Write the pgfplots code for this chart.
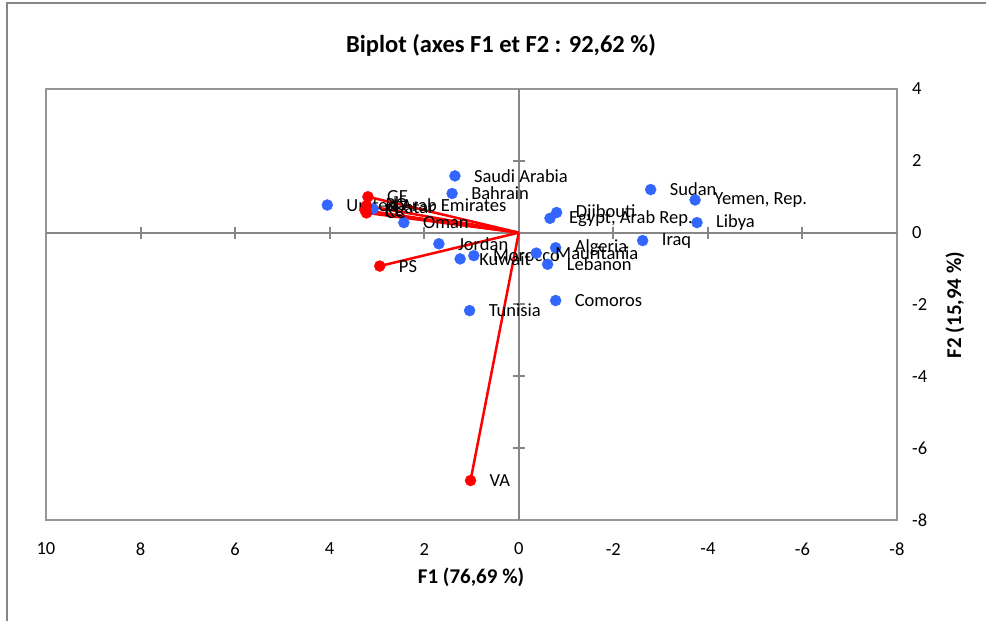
\documentclass[border=0pt]{standalone}
\usepackage{pgfplots}
\pgfplotsset{compat=1.18}
\usepackage{fontspec}
\setmainfont{Carlito}
\definecolor{ptblue}{RGB}{51,102,255}
\definecolor{axgray}{RGB}{134,134,134}
\definecolor{boxgray}{RGB}{150,150,150}
\begin{document}
\begin{tikzpicture}
\begin{axis}[
  scale only axis, width=851bp, height=431bp,
  x dir=reverse, xmin=-8, xmax=10, ymin=-8, ymax=4,
  xtick={-8,-6,...,10}, ytick={-8,-6,...,4},
  major tick length=0pt,
  axis line style={boxgray, line width=1.5bp},
  yticklabel pos=right,
  xticklabel style={anchor=center, inner sep=0pt, yshift=-29bp},
  yticklabel style={anchor=west, inner sep=0pt, xshift=15bp},
  ticklabel style={font=\fontsize{18.5bp}{21bp}\selectfont},
  /pgf/number format/assume math mode=true,
  clip=false,
]
% cross axes through the origin
\draw[axgray, line width=2bp] (axis cs:10,0) -- (axis cs:-8,0);
\draw[axgray, line width=2bp] (axis cs:0,-8) -- (axis cs:0,4);
\pgfplotsinvokeforeach{8,6,4,2,-2,-4,-6}{
  \draw[axgray, line width=2bp] (axis cs:#1,-0.167) -- (axis cs:#1,0.167);
}
\pgfplotsinvokeforeach{2,-2,-4,-6}{
  \draw[axgray, line width=2bp] (axis cs:0.127,#1) -- (axis cs:-0.127,#1);
}
% variable vectors
\addplot[red, line width=2.5bp, no marks] coordinates {(0,0) (3.19,1.00)};
\addplot[red, line width=2.5bp, no marks] coordinates {(0,0) (3.22,0.75)};
\addplot[red, line width=2.5bp, no marks] coordinates {(0,0) (3.25,0.62)};
\addplot[red, line width=2.5bp, no marks] coordinates {(0,0) (3.22,0.55)};
\addplot[red, line width=2.5bp, no marks] coordinates {(0,0) (2.94,-0.93)};
\addplot[red, line width=2.5bp, no marks] coordinates {(0,0) (1.02,-6.90)};
% observations
\addplot[only marks, mark=*, mark size=5.5bp, mark options={draw=ptblue, fill=ptblue},
  nodes near coords, point meta=explicit symbolic,
  every node near coord/.style={anchor=west, inner sep=0pt, xshift=19bp, text=black,
    font=\fontsize{18.5bp}{21bp}\selectfont}]
  table[col sep=semicolon, x=x, y=y, meta=label] {
x;y;label
4.05;0.77;United Arab Emirates
1.35;1.58;Saudi Arabia
1.41;1.09;Bahrain
3.08;0.66;Qatar
2.43;0.28;Oman
1.69;-0.31;Jordan
1.24;-0.73;Kuwait
0.95;-0.64;Morocco
1.04;-2.17;Tunisia
-0.80;0.56;Djibouti
-0.66;0.40;Egypt, Arab Rep.
-2.79;1.20;Sudan
-3.73;0.91;Yemen, Rep.
-3.77;0.28;Libya
-2.62;-0.22;Iraq
-0.78;-0.42;Algeria
-0.37;-0.57;Mauritania
-0.61;-0.88;Lebanon
-0.78;-1.89;Comoros
};
% variable endpoints
\addplot[only marks, mark=*, mark size=5.5bp, mark options={draw=red, fill=red},
  nodes near coords, point meta=explicit symbolic,
  every node near coord/.style={anchor=west, inner sep=0pt, xshift=19bp, text=black,
    font=\fontsize{18.5bp}{21bp}\selectfont}]
  table[col sep=semicolon, x=x, y=y, meta=label] {
x;y;label
3.19;1.00;GE
3.22;0.75;RQ
3.25;0.62;RL
3.22;0.55;CC
2.94;-0.93;PS
1.02;-6.90;VA
};
\end{axis}
% chart area frame (left and top edges)
\draw[axgray, line width=1.5bp] (-39bp,-101bp) -- (-39bp,517bp) -- (940bp,517bp);
\node[font=\bfseries\fontsize{24.5bp}{27bp}\selectfont] at (455bp,475bp) {Biplot (axes F1 et F2 : 92,62 \%)};
\node[font=\bfseries\fontsize{21bp}{24bp}\selectfont] at (425bp,-57bp) {F1 (76,69 \%)};
\node[font=\bfseries\fontsize{21bp}{24bp}\selectfont, rotate=90] at (909bp,215bp) {F2 (15,94 \%)};
\pgfresetboundingbox
\path[use as bounding box] (-46bp,-101bp) rectangle (940bp,520bp);
\end{tikzpicture}
\end{document}
